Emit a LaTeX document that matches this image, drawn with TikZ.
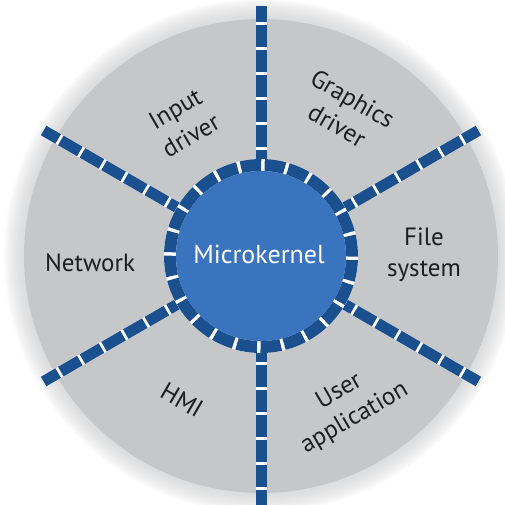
\documentclass[tikz,border=0pt]{standalone}
\usepackage{fontspec}
\newfontfamily\labelfont{PT Sans}
\usetikzlibrary{calc}
\definecolor{discgrey}{RGB}{198,199,201}
\definecolor{spokeblue}{RGB}{27,80,142}
\definecolor{kernelblue}{RGB}{58,116,190}
\definecolor{labelink}{RGB}{30,30,30}
\begin{document}
\begin{tikzpicture}[
  spokebase/.style={line width=11pt, white},
  spokeline/.style={line width=11pt, spokeblue, dash pattern=on 22pt off 3pt, dash phase=13pt},
  lbl/.style={font=\labelfont\fontsize{25}{31}\selectfont, text=labelink, align=center, inner sep=0pt},
]
\useasboundingbox (0,0) rectangle (505pt,-504pt);
\coordinate (C) at (261pt,-256pt);
% soft edge of the disc
\foreach \k in {1,...,10}
  \fill[discgrey, opacity=0.09] (C) circle ({237pt+2pt*\k});
\fill[discgrey] (C) circle (237pt);
% kernel anchor node
\node[circle, minimum size=194pt, inner sep=0pt] (kernel) at (C) {};
% spoke ends
\coordinate (eA) at ($(C)+(90:250pt)$);
\coordinate (eB) at ($(C)+(30:251pt)$);
\coordinate (eC) at ($(C)+(-30:251pt)$);
\coordinate (eD) at ($(C)+(-90:252pt)$);
\coordinate (eE) at ($(C)+(210:251pt)$);
\coordinate (eF) at ($(C)+(150:251pt)$);
\foreach \a/\n in {90/A,30/B,-30/C,-90/D,210/E,150/F}{
  \draw[spokebase] (kernel.\a) -- (e\n);
  \draw[spokeline] (kernel.\a) -- (e\n);
}
% kernel ring and body
\draw[white, line width=12pt] (C) circle (91pt);
\draw[spokeblue, line width=12pt, dash pattern=on 20.3pt off 3.5pt] (C) circle (91pt);
\fill[kernelblue] (C) circle (85pt);
\node[font=\labelfont\fontsize{26}{31}\selectfont, text=white, inner sep=0pt] (kernellabel) at (259pt,-254pt) {Microkernel};
% labels
\node[lbl, rotate=30] (input) at (183pt,-122pt) {Input\\driver};
\node[lbl, rotate=-30] (graphics) at (345pt,-112pt) {Graphics\\driver};
\node[lbl] (filesys) at (424pt,-255pt) {File\\system};
\node[lbl] (network) at (90pt,-263pt) {Network};
\node[lbl, rotate=-30] (hmi) at (182pt,-400pt) {HMI};
\node[lbl, rotate=30] (userapp) at (347pt,-405pt) {User\\application};
\end{tikzpicture}
\end{document}
